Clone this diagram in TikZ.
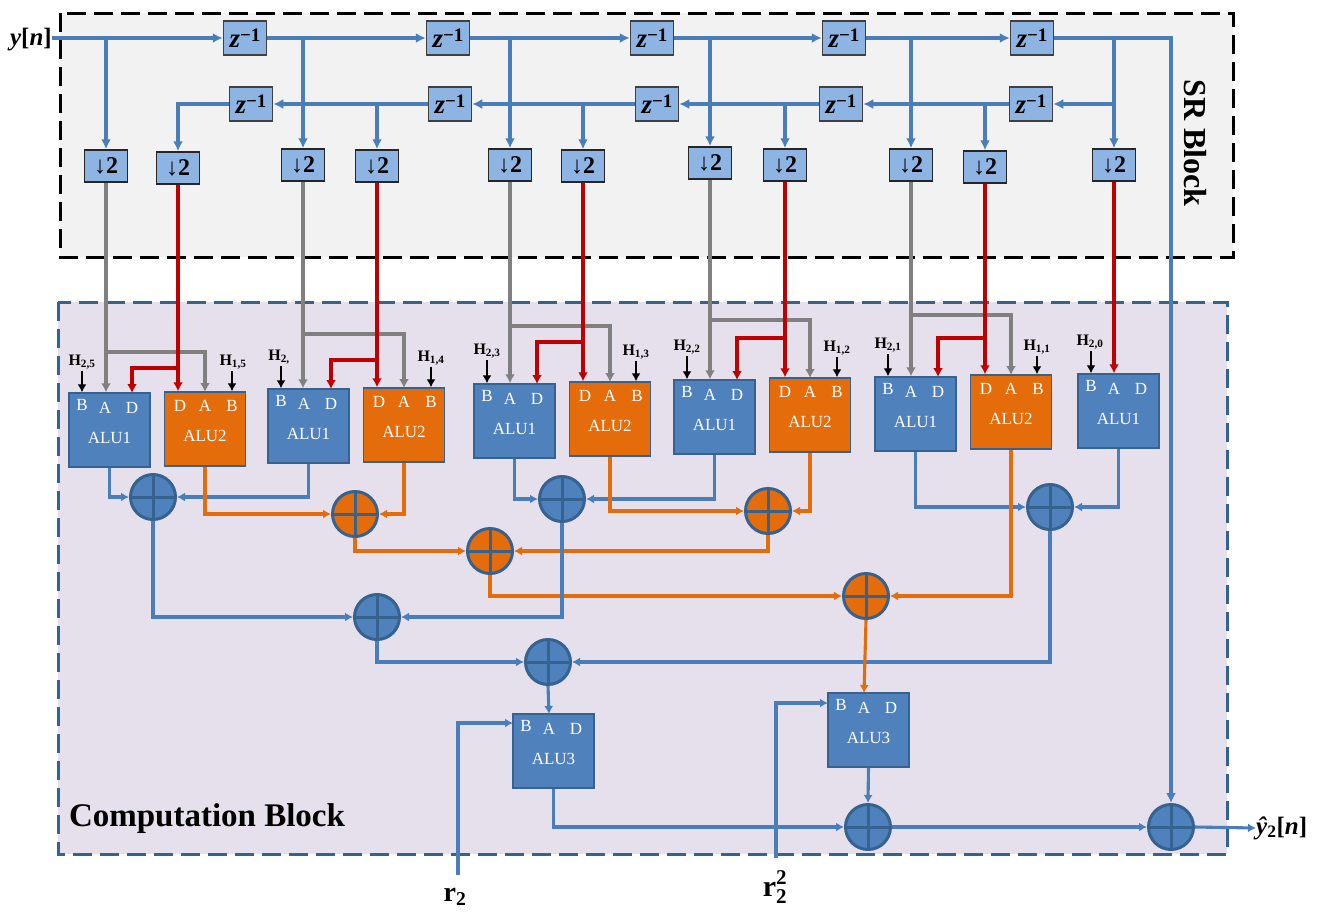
\documentclass[tikz,border=0pt]{standalone}
\usepackage{fontspec}
\setmainfont{Liberation Serif}
\usetikzlibrary{arrows.meta}
\definecolor{srfill}{HTML}{F2F2F2}
\definecolor{cbfill}{HTML}{E6E0EC}
\definecolor{dkblue}{HTML}{35628F}
\definecolor{alublue}{HTML}{4F81BD}
\definecolor{wireblue}{HTML}{4A7EBB}
\definecolor{aluor}{HTML}{E46C0A}
\definecolor{zfill}{HTML}{8EB4E3}
\definecolor{wred}{HTML}{C00000}
\definecolor{wgray}{HTML}{808080}
\newcommand{\fs}[1]{\fontsize{#1}{#1}\selectfont}
\tikzset{
 blockbox/.style={line width=3pt,dash pattern=on 19pt off 8pt},
 zbox/.style={draw=black!75,line width=1.5pt,fill=zfill,minimum width=43pt,minimum height=34pt,inner sep=0pt,font=\fs{27}\bfseries},
 dbox/.style={draw=black!85,line width=1.5pt,fill=zfill,minimum width=43pt,minimum height=32pt,inner sep=0pt,font=\fs{24}\bfseries},
 alubox/.style={draw=dkblue,line width=1.5pt,minimum width=81pt,minimum height=74pt,inner sep=0pt},
 portlbl/.style={text=white,font=\fs{17},inner sep=0pt},
 alulbl/.style={text=white,font=\fs{17},inner sep=0pt},
 sumnode/.style={circle,draw=dkblue,line width=3pt,minimum size=45pt,inner sep=0pt,
   path picture={\draw[dkblue,line width=3pt] (path picture bounding box.north) -- (path picture bounding box.south) (path picture bounding box.west) -- (path picture bounding box.east);}},
 wtop/.style={draw=wireblue,line width=3.2pt,-{Latex[length=10pt,width=10pt]}},
 wb/.style={draw=wireblue,line width=3.1pt,-{Latex[length=8pt,width=9pt]}},
 wo/.style={draw=aluor,line width=3.1pt,-{Latex[length=8pt,width=9pt]}},
 wg/.style={draw=wgray,line width=3.2pt,-{Latex[length=9pt,width=10pt]}},
 wr/.style={draw=wred,line width=3.2pt,-{Latex[length=9pt,width=10pt]}},
 wk/.style={draw=black,line width=1.4pt,-{Latex[length=8pt,width=9pt]}},
 hlbl/.style={inner sep=0pt,font=\fs{16}\bfseries},
}
\newcommand{\zee}{\textit{z}\raisebox{6pt}{\fs{19}\bfseries −1}}
\newcommand{\alublue}[4][ALU1]{%
 \node[alubox,fill=alublue] (#2) at ({#3+40.5},{#4+37}) {};
 \node[portlbl] (#2-tb) at ({#3+13},{#4+12}) {B};
 \node[portlbl] (#2-ta) at ({#3+36},{#4+15}) {A};
 \node[portlbl] (#2-td) at ({#3+63},{#4+15}) {D};
 \node[alulbl] (#2-t) at ({#3+40.5},{#4+45}) {#1};
 \coordinate (#2-pb) at ({#3+13},#4);
 \coordinate (#2-pa) at ({#3+36},#4);
 \coordinate (#2-pd) at ({#3+63},#4);
}
\newcommand{\aluorange}[3]{%
 \node[alubox,fill=aluor] (#1) at ({#2+40},{#3+37}) {};
 \node[portlbl] (#1-td) at ({#2+15},{#3+14}) {D};
 \node[portlbl] (#1-ta) at ({#2+40},{#3+14}) {A};
 \node[portlbl] (#1-tb) at ({#2+67},{#3+14}) {B};
 \node[alulbl] (#1-t) at ({#2+40},{#3+44}) {ALU2};
 \coordinate (#1-pd) at ({#2+15},#3);
 \coordinate (#1-pa) at ({#2+40},#3);
 \coordinate (#1-pb) at ({#2+67},#3);
}
\newcommand{\hin}[6]{%
 \node[hlbl] (#1) at (#5,#6) {H\textsubscript{#2}};
 \coordinate (#1-s) at (#4,{#6+9});
 \draw[wk] (#1-s) -- (#1-s |- #3.north);
}
\begin{document}
\begin{tikzpicture}[x=1pt,y=-1pt]
\useasboundingbox (0,0) rectangle (1322,914);
\path[blockbox,fill=srfill,draw=black] (60,13) rectangle (1233,257);
\path[blockbox,fill=cbfill,draw=dkblue] (58,302) rectangle (1227,854);
\node[rotate=-90,font=\fs{32}\bfseries,inner sep=0pt] (srlbl) at (1195,143) {SR Block};
\node[font=\fs{33}\bfseries,inner sep=0pt] (cblbl) at (207,819) {Computation Block};

% ALUs
\alublue{a1}{69}{393}
\aluorange{a2}{165}{392}
\alublue{a3}{268}{389}
\aluorange{a4}{364}{388}
\alublue{a5}{474}{384}
\aluorange{a6}{570}{382}
\alublue{a7}{674}{380}
\aluorange{a8}{770}{378}
\alublue{a9}{875}{377}
\aluorange{a10}{971}{375}
\alublue{a11}{1078}{374}
\alublue[ALU3]{b1}{513}{714}
\alublue[ALU3]{b2}{828}{693}

% delay and downsampler nodes
\foreach \n/\x in {z1/245,z2/448,z3/652,z4/844,z5/1032} \node[zbox] (\n) at (\x,38) {\zee};
\foreach \n/\x in {y1/251,y2/450,y3/657,y4/841,y5/1031} \node[zbox] (\n) at (\x,104) {\zee};
\foreach \n/\x/\y in {d1/106/166,d2/178/168,d3/303/165,d4/377/166,d5/510/165,d6/583/166,d7/710/163,d8/785/165,d9/911/165,d10/985/167,d11/1114/165}
  \node[dbox] (\n) at (\x,\y) {↓2};

% sum nodes
\foreach \n/\x/\y in {c1/153/497,c3/562/499,c6/1050/507,c8/377/617,c9/548/662,c10/868/827,c11/1171/827}
  \node[sumnode,fill=alublue] (\n) at (\x,\y) {};
\foreach \n/\x/\y in {c2/355/514,c4/768/511,c5/490/551,c7/866/596}
  \node[sumnode,fill=aluor] (\n) at (\x,\y) {};

% end labels
\node[inner sep=0pt,font=\fs{25}\bfseries,anchor=east] (yin) at (52,40) {\textit{y}[\textit{n}]};
\node[inner sep=0pt,font=\fs{25}\bfseries,anchor=west] (yout) at (1256,828) {\textit{ŷ}\textsubscript{2}[\textit{n}]};
\node[inner sep=0pt,font=\fs{28}\bfseries] (r1) at (455,897) {r\textsubscript{2}};
\node[inner sep=0pt,font=\fs{30}\bfseries] (r2) at (775,887) {r\rlap{\raisebox{-2pt}{\textsubscript{2}}}\raisebox{3pt}{\textsuperscript{2}}};

% top delay line
\draw[wtop] (yin.east |- z1.west) -- (z1.west);
\draw[wtop] (z1.east) -- (z2.west);
\draw[wtop] (z2.east) -- (z3.west);
\draw[wtop] (z3.east) -- (z4.west);
\draw[wtop] (z4.east) -- (z5.west);
\draw[wtop] (z1.west -| d1.north) -- (d1.north);
\draw[wtop] (z1.east) -| (d3.north);
\draw[wtop] (z2.east) -| (d5.north);
\draw[wtop] (z3.east) -| (d7.north);
\draw[wtop] (z4.east) -| (d9.north);
\draw[wtop] (z5.east) -| (d11.north);
\draw[wtop] (z5.east) -| (c11.north);
% return delay line
\draw[wtop] (d11.north |- y5.east) -- (y5.east);
\draw[wtop] (y5.west) -- (y4.east);
\draw[wtop] (y4.west) -- (y3.east);
\draw[wtop] (y3.west) -- (y2.east);
\draw[wtop] (y2.west) -- (y1.east);
\draw[wtop] (y1.west) -| (d2.north);
\draw[wtop] (y2.west) -| (d4.north);
\draw[wtop] (y3.west) -| (d6.north);
\draw[wtop] (y4.west) -| (d8.north);
\draw[wtop] (y5.west) -| (d10.north);

% grey and red feeds
\foreach \d/\a/\e/\yb in {d1/a1/a2/352,d3/a3/a4/334,d5/a5/a6/326,d7/a7/a8/320,d9/a9/a10/315}{
  \draw[wg] (\d.south) -- (\d.south |- \a.north);
  \coordinate (\d-br) at (\d.south |- 0,\yb);
  \draw[wg] (\d-br) -| (\e-pa);
}
\foreach \d/\a/\e/\yb in {d2/a1/a2/368,d4/a3/a4/360,d6/a5/a6/342,d8/a7/a8/338,d10/a9/a10/338}{
  \draw[wr] (\d.south) -- (\d.south |- \e.north);
  \coordinate (\d-br) at (\d.south |- 0,\yb);
  \draw[wr] (\d-br) -| (\a-pd);
}
\draw[wr] (d11.south) -- (d11.south |- a11.north);

% coefficient inputs
\hin{h1}{2,5}{a1}{82}{82}{362}
\hin{h2}{1,5}{a2}{232}{233}{362}
\hin{h3}{2,}{a3}{281}{279}{357}
\hin{h4}{1,4}{a4}{431}{431}{358}
\hin{h5}{2,3}{a5}{487}{487}{351}
\hin{h6}{1,3}{a6}{636}{636}{352}
\hin{h7}{2,2}{a7}{687}{687}{347}
\hin{h8}{1,2}{a8}{837}{837}{348}
\hin{h9}{2,1}{a9}{888}{888}{345}
\hin{h10}{1,1}{a10}{1037}{1037}{347}
\hin{h11}{2,0}{a11}{1091}{1090}{342}

% ALU outputs to adders
\draw[wb] (a1.south) |- (c1.west);
\draw[wb] (a3.south) |- (c1.east);
\draw[wo] (a2.south) |- (c2.west);
\draw[wo] (a4.south) |- (c2.east);
\draw[wb] (a5.south) |- (c3.west);
\draw[wb] (a7.south) |- (c3.east);
\draw[wo] (a6.south) |- (c4.west);
\draw[wo] (a8.south) |- (c4.east);
\draw[wb] (a9.south) |- (c6.west);
\draw[wb] (a11.south) |- (c6.east);
\draw[wo] (a10.south) |- (c7.east);
\draw[wo] (c2.south) |- (c5.west);
\draw[wo] (c4.south) |- (c5.east);
\draw[wo] (c5.south) |- (c7.west);
\draw[wb] (c1.south) |- (c8.west);
\draw[wb] (c3.south) |- (c8.east);
\draw[wb] (c8.south) |- (c9.west);
\draw[wb] (c6.south) |- (c9.east);
\draw[wb] (c9.south) -- (b1-pa);
\draw[wo] (c7.south) -- (b2-pa);
\coordinate (r1top) at (458,875);
\coordinate (r2top) at (776,858);
\coordinate (b1in) at (513,723);
\coordinate (b2in) at (828,703);
\draw[wb] (r1top) |- (b1in);
\draw[wb] (r2top) |- (b2in);
\draw[wb] (b1.south) |- (c10.west);
\draw[wb] (b2.south) -- (c10.north);
\draw[wb] (c10.east) -- (c11.west);
\draw[wb] (c11.east) -- (yout.west);
\end{tikzpicture}
\end{document}
